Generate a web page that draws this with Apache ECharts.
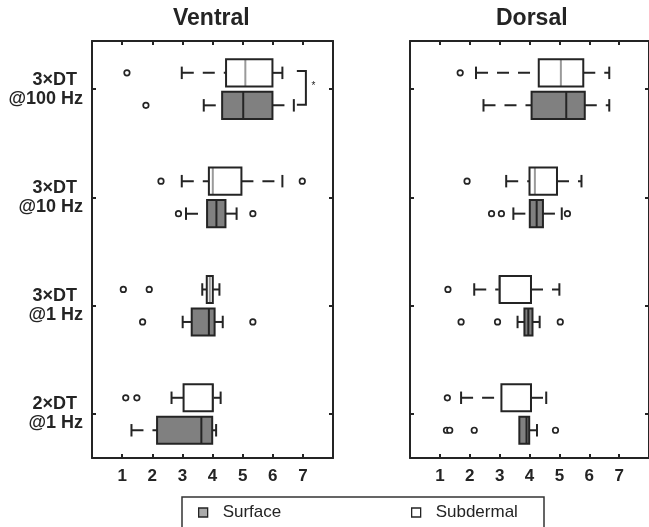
<!DOCTYPE html>
<html>
<head>
<meta charset="utf-8">
<script src="https://cdn.jsdelivr.net/npm/echarts@6.0.0/dist/echarts.min.js"></script>
<style>
html,body{margin:0;padding:0;background:#fff;}
#chart{width:649px;height:527px;}
</style>
</head>
<body>
<div id="chart"></div>
<script>
// ---- data ----
const panels = ['Ventral', 'Dorsal'];
const categories = ['2×DT\n@1 Hz', '3×DT\n@1 Hz', '3×DT\n@10 Hz', '3×DT\n@100 Hz'];
const categoryPos = [1, 2, 3, 4];
const xTicks = [1, 2, 3, 4, 5, 6, 7];
const seriesNames = ['Surface', 'Subdermal'];

// [lower whisker, Q1, median, Q3, upper whisker] per category (bottom to top)
const ventralSurface = [
  [1.31, 2.16, 3.63, 3.99, 4.12],
  [3.01, 3.31, 3.88, 4.07, 4.34],
  [3.12, 3.82, 4.13, 4.43, 4.80],
  [3.71, 4.32, 5.02, 5.99, 6.70]
];
const ventralSurfaceOutliers = [[], [1.68, 5.34], [2.87, 5.34], [1.79]];
const ventralSubdermal = [
  [2.64, 3.04, 4.01, 4.01, 4.27],
  [3.66, 3.81, 3.91, 4.01, 4.23],
  [2.98, 3.88, 4.01, 4.96, 6.32],
  [2.98, 4.45, 5.09, 5.99, 6.32]
];
const ventralSubdermalOutliers = [[1.12, 1.49], [1.04, 1.90], [2.29, 6.98], [1.16]];

const dorsalSurface = [
  [3.66, 3.66, 3.90, 3.99, 4.25],
  [3.60, 3.83, 3.96, 4.10, 4.34],
  [3.46, 4.01, 4.24, 4.45, 5.08],
  [2.46, 4.07, 5.23, 5.85, 6.67]
];
const dorsalSurfaceOutliers = [[1.22, 1.33, 2.15, 4.87], [1.71, 2.93, 5.03], [2.73, 3.06, 5.27], []];
const dorsalSubdermal = [
  [1.71, 3.06, 4.05, 4.05, 4.56],
  [2.15, 3.00, 3.00, 4.05, 5.00],
  [3.22, 4.00, 4.18, 4.92, 5.74],
  [2.21, 4.31, 5.05, 5.80, 6.67]
];
const dorsalSubdermalOutliers = [[1.25], [1.27], [1.91], [1.68]];

// significance bracket (Ventral, 3×DT @100 Hz): x span and label
const sigBracketX = [6.8, 7.1];
const sigLabel = '*';

// ---- styling ----
const FONT = "'Liberation Sans', Arial, sans-serif";
const DARK = '#242424';
const SURF_FILL = '#808080';
const SUB_FILL = '#ffffff';
const OFF_SUB = 0.15, OFF_SURF = -0.15, HALF_H = 0.125;
const Y_MIN = 0.594, Y_MAX = 4.444;

function boxItems(stats, offset) {
  return stats.map((s, i) => [categoryPos[i]].concat(s).concat([offset]));
}
function outlierItems(outs, offset) {
  const r = [];
  outs.forEach((arr, i) => arr.forEach(v => r.push([v, categoryPos[i] + offset])));
  return r;
}
function makeRender(fill, medColor) {
  return function (params, api) {
    const yc = api.value(0) + api.value(6);
    const low = api.coord([api.value(1), yc]);
    const q1 = api.coord([api.value(2), yc]);
    const med = api.coord([api.value(3), yc]);
    const q3 = api.coord([api.value(4), yc]);
    const high = api.coord([api.value(5), yc]);
    const h = api.size([0, HALF_H])[1];
    const cap = h * 0.46;
    const y = low[1];
    const ws = { stroke: DARK, lineWidth: 2, lineDash: [12, 9] };
    const children = [];
    if (q1[0] - low[0] > 0.5) {
      children.push({ type: 'line', shape: { x1: low[0], y1: y, x2: q1[0], y2: y }, style: ws });
      children.push({ type: 'line', shape: { x1: low[0], y1: y - cap, x2: low[0], y2: y + cap }, style: { stroke: DARK, lineWidth: 2 } });
    }
    if (high[0] - q3[0] > 0.5) {
      children.push({ type: 'line', shape: { x1: q3[0], y1: y, x2: high[0], y2: y }, style: ws });
      children.push({ type: 'line', shape: { x1: high[0], y1: y - cap, x2: high[0], y2: y + cap }, style: { stroke: DARK, lineWidth: 2 } });
    }
    children.push({ type: 'rect', shape: { x: q1[0], y: y - h, width: q3[0] - q1[0], height: 2 * h }, style: { fill: fill, stroke: null } });
    children.push({ type: 'line', shape: { x1: med[0], y1: y - h, x2: med[0], y2: y + h }, style: { stroke: medColor, lineWidth: 2 } });
    children.push({ type: 'rect', shape: { x: q1[0], y: y - h, width: q3[0] - q1[0], height: 2 * h }, style: { fill: 'none', stroke: DARK, lineWidth: 2 } });
    return { type: 'group', children: children };
  };
}

const grids = [
  { left: 92, top: 41, width: 241, height: 417 },
  { left: 410, top: 41, width: 243, height: 417 }
];
const xAxes = [], yAxes = [];
grids.forEach((g, gi) => {
  const xcommon = () => ({
    type: 'value', gridIndex: gi, min: 0, max: 8,
    axisLine: { show: true, onZero: false, lineStyle: { color: DARK, width: 2 } },
    axisTick: { show: true, inside: true, length: 4, lineStyle: { color: DARK, width: 2 }, customValues: xTicks },
    splitLine: { show: false }
  });
  xAxes.push(Object.assign(xcommon(), {
    position: 'bottom',
    axisLabel: { show: true, customValues: xTicks, margin: 10, fontFamily: FONT, fontSize: 17, fontWeight: 'bold', color: DARK }
  }));
  xAxes.push(Object.assign(xcommon(), { position: 'top', axisLabel: { show: false } }));
  const ycommon = () => ({
    type: 'value', gridIndex: gi, min: Y_MIN, max: Y_MAX,
    axisLine: { show: true, onZero: false, lineStyle: { color: DARK, width: 2 } },
    axisTick: { show: true, inside: true, length: 4, lineStyle: { color: DARK, width: 2 }, customValues: categoryPos },
    splitLine: { show: false }
  });
  yAxes.push(Object.assign(ycommon(), {
    position: 'left',
    axisLabel: gi === 0 ? {
      show: true, customValues: categoryPos, margin: 9,
      formatter: function (v) {
        const parts = categories[Math.round(v) - 1].split('\n');
        return '{a|' + parts[0] + '}\n{b|' + parts[1] + '}';
      },
      rich: {
        a: { fontFamily: FONT, fontSize: 18, fontWeight: 'bold', color: DARK, lineHeight: 19, padding: [0, 6, 0, 0], align: 'right' },
        b: { fontFamily: FONT, fontSize: 18, fontWeight: 'bold', color: DARK, lineHeight: 19, align: 'right' }
      }
    } : { show: false }
  }));
  yAxes.push(Object.assign(ycommon(), { position: 'right', axisLabel: { show: false } }));
});

const panelData = [
  { surf: ventralSurface, surfOut: ventralSurfaceOutliers, sub: ventralSubdermal, subOut: ventralSubdermalOutliers },
  { surf: dorsalSurface, surfOut: dorsalSurfaceOutliers, sub: dorsalSubdermal, subOut: dorsalSubdermalOutliers }
];
const series = [];
panelData.forEach((p, gi) => {
  const xi = gi * 2, yi = gi * 2;
  series.push({
    type: 'custom', name: seriesNames[1], xAxisIndex: xi, yAxisIndex: yi,
    itemStyle: { color: SUB_FILL, borderColor: DARK },
    renderItem: makeRender(SUB_FILL, '#9a9a9a'),
    encode: { x: [1, 2, 3, 4, 5], y: 0 },
    data: boxItems(p.sub, OFF_SUB), z: 2
  });
  series.push({
    type: 'custom', name: seriesNames[0], xAxisIndex: xi, yAxisIndex: yi,
    itemStyle: { color: SURF_FILL, borderColor: DARK },
    renderItem: makeRender(SURF_FILL, DARK),
    encode: { x: [1, 2, 3, 4, 5], y: 0 },
    data: boxItems(p.surf, OFF_SURF), z: 2
  });
  series.push({
    type: 'scatter', name: seriesNames[1] + ' outliers', xAxisIndex: xi, yAxisIndex: yi,
    symbol: 'circle', symbolSize: 5.5, silent: true,
    itemStyle: { color: '#fff', borderColor: DARK, borderWidth: 1.7, opacity: 1 },
    data: outlierItems(p.subOut, OFF_SUB), z: 3
  });
  series.push({
    type: 'scatter', name: seriesNames[0] + ' outliers', xAxisIndex: xi, yAxisIndex: yi,
    symbol: 'circle', symbolSize: 5.5, silent: true,
    itemStyle: { color: '#fff', borderColor: DARK, borderWidth: 1.7, opacity: 1 },
    data: outlierItems(p.surfOut, OFF_SURF), z: 3
  });
});
// significance bracket on Ventral 3×DT @100 Hz
series.push({
  type: 'custom', name: 'sig', xAxisIndex: 0, yAxisIndex: 0, silent: true,
  data: [[sigBracketX[0], sigBracketX[1], 4]],
  renderItem: function (params, api) {
    const top = api.coord([api.value(0), api.value(2) + OFF_SUB + 0.018]);
    const bot = api.coord([api.value(0), api.value(2) + OFF_SURF + 0.005]);
    const right = api.coord([api.value(1), api.value(2)]);
    const mid = api.coord([api.value(1) + 0.25, api.value(2) + 0.03]);
    return {
      type: 'group', children: [
        { type: 'polyline', shape: { points: [[top[0], top[1]], [right[0], top[1]], [right[0], bot[1]], [bot[0], bot[1]]] }, style: { stroke: DARK, lineWidth: 2, fill: 'none' } },
        { type: 'text', style: { text: sigLabel, x: mid[0], y: mid[1], fontFamily: FONT, fontSize: 10, fill: DARK, align: 'center', verticalAlign: 'middle' } }
      ]
    };
  }
});

const legendCommon = {
  orient: 'horizontal', top: 504, padding: 0, itemWidth: 9, itemHeight: 9, selectedMode: false,
  textStyle: { fontFamily: FONT, fontSize: 17, color: DARK, padding: [0, 0, 0, 10] }
};

const option = {
  backgroundColor: '#fff',
  animation: false,
  title: [
    { text: panels[0], left: 173, top: 7, padding: 0, textStyle: { fontFamily: FONT, fontSize: 23, fontWeight: 'bold', color: DARK } },
    { text: panels[1], left: 496, top: 7, padding: 0, textStyle: { fontFamily: FONT, fontSize: 23, fontWeight: 'bold', color: DARK } }
  ],
  legend: [
    Object.assign({}, legendCommon, { left: 198, data: [{ name: seriesNames[0], icon: 'rect', itemStyle: { color: '#aaaaaa', borderColor: DARK, borderWidth: 1.3 } }] }),
    Object.assign({}, legendCommon, { left: 411, data: [{ name: seriesNames[1], icon: 'rect', itemStyle: { color: '#ffffff', borderColor: DARK, borderWidth: 1.3 } }] })
  ],
  graphic: [
    { type: 'rect', shape: { x: 182, y: 497, width: 362, height: 40 }, style: { fill: 'none', stroke: '#333', lineWidth: 1.5 }, silent: true }
  ],
  grid: grids,
  xAxis: xAxes,
  yAxis: yAxes,
  series: series
};

const chart = echarts.init(document.getElementById('chart'), null, { renderer: 'canvas' });
chart.setOption(option);
</script>
</body>
</html>
